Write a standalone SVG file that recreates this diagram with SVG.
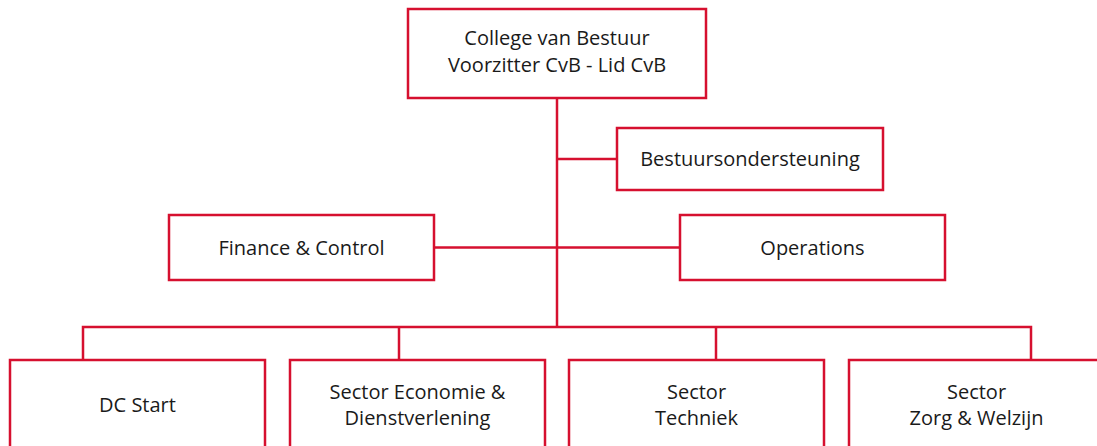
<svg xmlns="http://www.w3.org/2000/svg" width="1097" height="446" viewBox="0 0 1097 446">
<style>
.box{fill:#fff;stroke:#d6102f;stroke-width:2.5}
.conn{fill:none;stroke:#d6102f;stroke-width:2.5}
text{font-family:"Open Sans","Noto Sans","Liberation Sans",sans-serif;font-size:20px;fill:#1a1a1a;text-anchor:middle}
</style>
<rect width="1097" height="446" fill="#fff"/>
<g id="connectors">
<path class="conn" d="M557 98 V327"/>
<path class="conn" d="M557 159 H617"/>
<path class="conn" d="M434 247.5 H680"/>
<path class="conn" d="M83 360 V327 H1031 V360"/>
<path class="conn" d="M399 327 V360"/>
<path class="conn" d="M716 327 V360"/>
</g>
<g id="cvb">
<rect class="box" x="408" y="9" width="298" height="89"/>
<text x="557" y="45">College van Bestuur</text>
<text x="557" y="72">Voorzitter CvB - Lid CvB</text>
</g>
<g id="bestuursondersteuning">
<rect class="box" x="617" y="128" width="266" height="62"/>
<text x="750" y="166">Bestuursondersteuning</text>
</g>
<g id="finance">
<rect class="box" x="169" y="215" width="265" height="65"/>
<text x="301.5" y="254.5">Finance &amp; Control</text>
</g>
<g id="operations">
<rect class="box" x="680" y="215" width="265" height="65"/>
<text x="812.5" y="254.5">Operations</text>
</g>
<g id="dcstart">
<rect class="box" x="10" y="360" width="255" height="90"/>
<text x="137.5" y="412">DC Start</text>
</g>
<g id="economie">
<rect class="box" x="290" y="360" width="255" height="90"/>
<text x="417.5" y="399">Sector Economie &amp;</text>
<text x="417.5" y="425">Dienstverlening</text>
</g>
<g id="techniek">
<rect class="box" x="569" y="360" width="255" height="90"/>
<text x="696.5" y="399">Sector</text>
<text x="696.5" y="425">Techniek</text>
</g>
<g id="zorg">
<rect class="box" x="849" y="360" width="255" height="90"/>
<text x="976.5" y="399">Sector</text>
<text x="976.5" y="425">Zorg &amp; Welzijn</text>
</g>
</svg>
